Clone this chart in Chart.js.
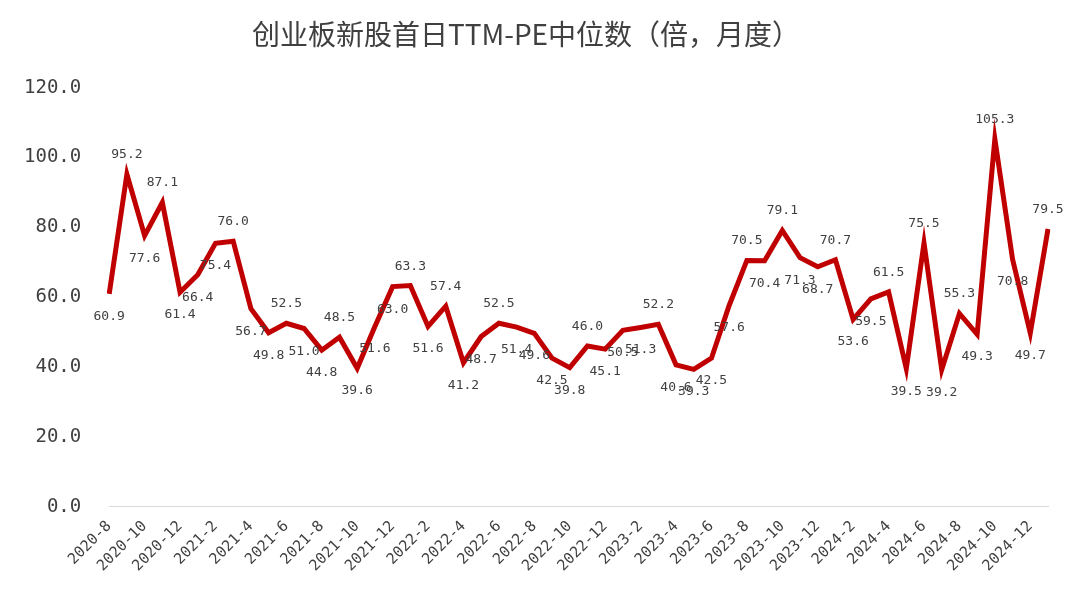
<!DOCTYPE html>
<html><head><meta charset="utf-8">
<script src="https://cdn.jsdelivr.net/npm/chart.js@4"></script>
<style>
body{margin:0;background:#fff;}
#wrap{position:relative;width:1080px;height:590px;}
</style></head>
<body><div id="wrap"><canvas id="c" width="1080" height="590"></canvas></div>
<script>
// 月份（2020-8 至 2025-1）
var months = [];
(function () {
    var y = 2020, m = 8;
    for (var i = 0; i < 54; i++) {
        months.push(y + '-' + m);
        m++; if (m > 12) { m = 1; y++; }
    }
})();
// 创业板新股首日TTM-PE中位数
var peValues = [60.9, 95.2, 77.6, 87.1, 61.4, 66.4, 75.4, 76.0, 56.7, 49.8, 52.5, 51.0,
    44.8, 48.5, 39.6, 51.6, 63.0, 63.3, 51.6, 57.4, 41.2, 48.7, 52.5, 51.4, 49.6, 42.5,
    39.8, 46.0, 45.1, 50.5, 51.3, 52.2, 40.6, 39.3, 42.5, 57.6, 70.5, 70.4, 79.1, 71.3,
    68.7, 70.7, 53.6, 59.5, 61.5, 39.5, 75.5, 39.2, 55.3, 49.3, 105.3, 70.8, 49.7, 79.5];
var yTicks = [0, 20, 40, 60, 80, 100, 120];

// 数据标签：局部高点放上方，其余放下方
var labelPlugin = {
    id: 'labels',
    afterDatasetsDraw: function (chart) {
        var ctx = chart.ctx;
        var pts = chart.getDatasetMeta(0).data;
        ctx.save();
        ctx.font = '13px "DejaVu Sans Mono"';
        ctx.fillStyle = '#404040';
        ctx.textAlign = 'center';
        pts.forEach(function (p, i) {
            var v = peValues[i];
            var prev = i > 0 ? peValues[i - 1] : v;
            var next = i < peValues.length - 1 ? peValues[i + 1] : v;
            var up = v >= prev && v >= next;
            ctx.fillText(v.toFixed(1), p.x, up ? p.y - 16 : p.y + 26);
        });
        ctx.restore();
    }
};

new Chart(document.getElementById('c').getContext('2d'), {
    type: 'line',
    data: {
        labels: months,
        datasets: [{
            data: peValues,
            borderColor: '#c00000',
            borderWidth: 5,
            pointRadius: 0,
            tension: 0,
            borderJoinStyle: 'miter'
        }]
    },
    options: {
        responsive: false,
        animation: false,
        layout: { padding: { left: 4, right: 32, top: 18, bottom: 12 } },
        plugins: {
            legend: { display: false },
            tooltip: { enabled: false },
            title: {
                display: true,
                text: '创业板新股首日TTM-PE中位数（倍，月度）',
                color: '#404040',
                font: { size: 28, family: '"Noto Sans CJK SC"', weight: 'normal' },
                padding: { top: 0, bottom: 36 }
            }
        },
        scales: {
            x: {
                offset: false,
                grid: { display: false },
                border: { color: '#d9d9d9' },
                ticks: {
                    color: '#404040',
                    font: { size: 15, family: '"DejaVu Sans Mono"' },
                    maxRotation: 45, minRotation: 45,
                    autoSkip: false,
                    callback: function (v, i) { return i % 2 === 0 ? months[i] : ''; }
                }
            },
            y: {
                min: 0, max: 120,
                afterBuildTicks: function (ax) { ax.ticks = yTicks.map(function (v) { return { value: v }; }); },
                grid: { display: false },
                border: { display: false },
                ticks: {
                    color: '#404040',
                    padding: 20,
                    font: { size: 19, family: '"DejaVu Sans Mono"' },
                    callback: function (v) { return v.toFixed(1); }
                }
            }
        }
    },
    plugins: [labelPlugin]
});
</script></body></html>
